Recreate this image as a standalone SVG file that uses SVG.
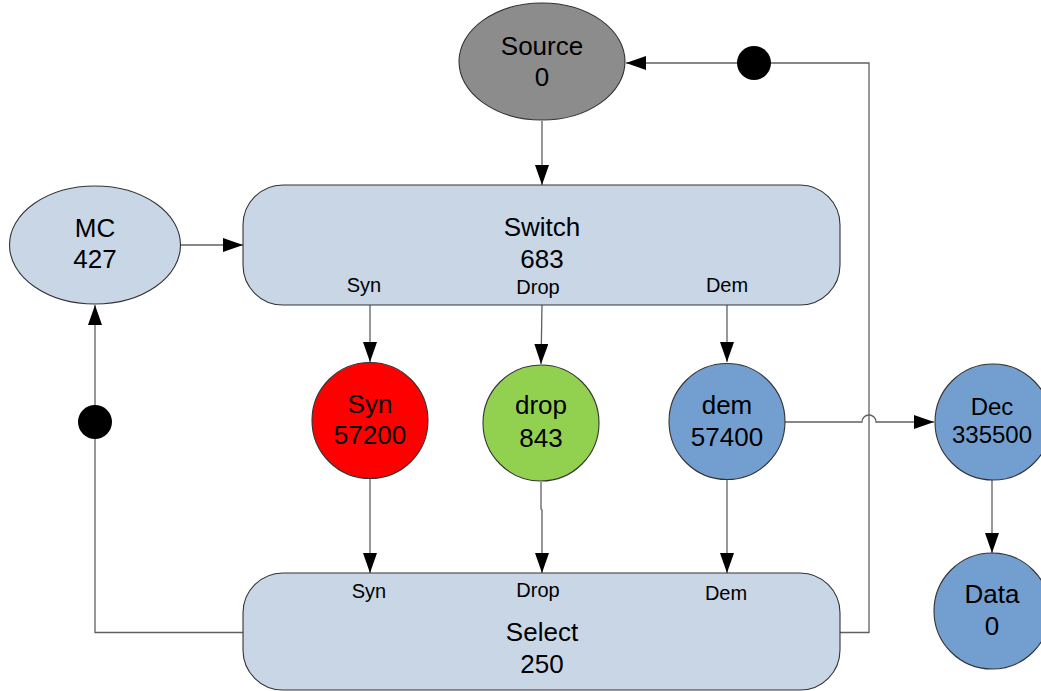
<svg xmlns="http://www.w3.org/2000/svg" width="1041" height="691" viewBox="0 0 1041 691">
<style>
.shape{stroke:#333;stroke-width:1.1}
.lb{fill:#c8d6e6}
.conn{fill:none;stroke:#606060;stroke-width:1.3}
text{font-family:"Liberation Sans",Arial,sans-serif;fill:#000;text-anchor:middle}
.big{font-size:26px}
.mid{font-size:24px}
.port{font-size:20px}
</style>
<defs>
<marker id="arr" viewBox="0 0 20 14" refX="20" refY="7" markerWidth="20" markerHeight="14" markerUnits="userSpaceOnUse" orient="auto">
<path d="M0,0 L20,7 L0,14 Z" fill="#000"/>
</marker>
</defs>
<rect width="1041" height="691" fill="#fff"/>
<g id="connectors">
<line class="conn" x1="542" y1="121" x2="542" y2="185" marker-end="url(#arr)"/>
<line class="conn" x1="180" y1="245" x2="243" y2="245" marker-end="url(#arr)"/>
<line class="conn" x1="370" y1="305" x2="370" y2="362" marker-end="url(#arr)"/>
<line class="conn" x1="542" y1="305" x2="541" y2="364" marker-end="url(#arr)"/>
<line class="conn" x1="727" y1="305" x2="727" y2="362" marker-end="url(#arr)"/>
<line class="conn" x1="370" y1="479" x2="370" y2="573" marker-end="url(#arr)"/>
<polyline class="conn" points="541,482 541,509 542,510 542,573" marker-end="url(#arr)"/>
<line class="conn" x1="727" y1="480" x2="727" y2="573" marker-end="url(#arr)"/>
<path class="conn" d="M785,422 H862 A7,7 0 0 1 876,422 H934" marker-end="url(#arr)"/>
<line class="conn" x1="992" y1="480" x2="992" y2="553" marker-end="url(#arr)"/>
<path class="conn" d="M840,632.5 H869 V63 H626" marker-end="url(#arr)"/>
<path class="conn" d="M243,632.5 H95 V305" marker-end="url(#arr)"/>
<circle cx="754" cy="63" r="17" fill="#000"/>
<circle cx="95" cy="422" r="17" fill="#000"/>
</g>
<g id="source">
<ellipse class="shape" cx="542" cy="61.5" rx="83" ry="58.5" fill="#8c8c8c"/>
<text class="big" x="542" y="55">Source</text>
<text class="big" x="542" y="86">0</text>
</g>
<g id="mc">
<ellipse class="shape lb" cx="95" cy="245" rx="85.5" ry="59"/>
<text class="big" x="95" y="237">MC</text>
<text class="big" x="95" y="268">427</text>
</g>
<g id="switch">
<rect class="shape lb" x="243" y="185" width="597" height="120" rx="40" ry="40"/>
<text class="big" x="542" y="236">Switch</text>
<text class="big" x="542" y="268">683</text>
<text class="port" x="364" y="292">Syn</text>
<text class="port" x="538" y="294">Drop</text>
<text class="port" x="727" y="292">Dem</text>
</g>
<g id="syn">
<circle class="shape" cx="370" cy="420.5" r="58" fill="#ff0000"/>
<text class="big" x="370" y="413">Syn</text>
<text class="big" x="370" y="444">57200</text>
</g>
<g id="drop">
<circle class="shape" cx="541" cy="423" r="58" fill="#92d050"/>
<text class="big" x="541" y="414">drop</text>
<text class="big" x="541" y="447">843</text>
</g>
<g id="dem">
<circle class="shape" cx="727" cy="421.5" r="58" fill="#729fcf"/>
<text class="big" x="727" y="414">dem</text>
<text class="big" x="727" y="446">57400</text>
</g>
<g id="dec">
<circle class="shape" cx="993" cy="422" r="58" fill="#729fcf"/>
<text class="mid" x="992" y="415">Dec</text>
<text class="mid" x="992" y="443">335500</text>
</g>
<g id="data">
<circle class="shape" cx="992" cy="611" r="58" fill="#729fcf"/>
<text class="big" x="992" y="603">Data</text>
<text class="big" x="992" y="635">0</text>
</g>
<g id="select">
<rect class="shape lb" x="243" y="573" width="597" height="117" rx="40" ry="40"/>
<text class="port" x="369" y="598">Syn</text>
<text class="port" x="538" y="597">Drop</text>
<text class="port" x="726" y="600">Dem</text>
<text class="big" x="542" y="641">Select</text>
<text class="big" x="542" y="673">250</text>
</g>
</svg>
